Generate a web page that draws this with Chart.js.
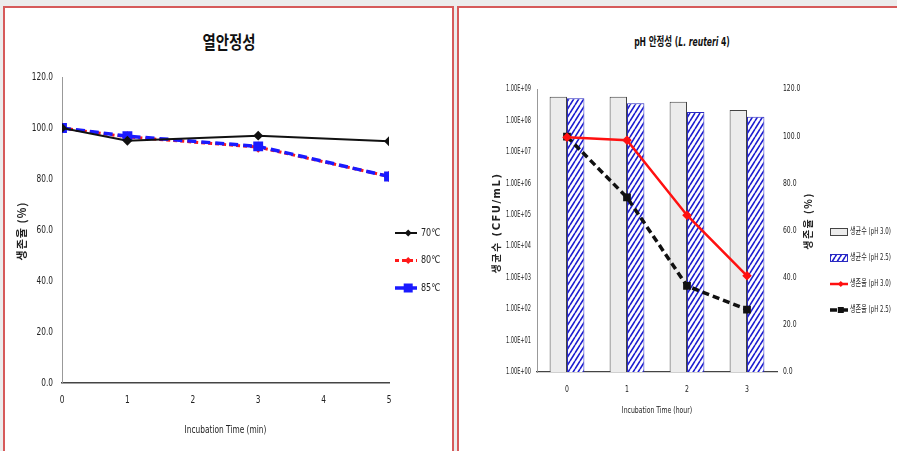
<!DOCTYPE html>
<html>
<head>
<meta charset="UTF-8">
<title>열안정성 / pH 안정성</title>
<script src="https://cdn.jsdelivr.net/npm/chart.js"></script>
<style>
  body { margin: 0; width: 897px; height: 451px; overflow: hidden; background: #ececec; position: relative; }
  .panel { position: absolute; top: 6px; height: 470px; box-sizing: border-box; border: 2px solid #d65a5a; background: #fff; }
  #p1 { left: 3px; width: 451px; }
  #p2 { left: 457px; width: 460px; }
  canvas { position: absolute; }
  #heat { left: 6px; top: 9px; }
  #ph { left: 460px; top: 9px; }
  .title { position: absolute; font-weight: bold; white-space: nowrap; color: #111;
           font-family: 'DejaVu Sans Condensed', 'Liberation Sans', 'Noto Sans CJK KR', sans-serif; }
  #t1 { left: 229px; top: 28px; font-size: 18px; transform: translateX(-50%) scaleX(0.8); }
  #t2 { left: 682px; top: 31px; font-size: 12.5px; transform: translateX(-50%) scaleX(0.68); }
</style>
</head>
<body>
<div class="panel" id="p1"></div>
<div class="panel" id="p2"></div>
<div class="title" id="t1">열안정성</div>
<div class="title" id="t2">pH 안정성 (<i>L. reuteri</i> 4)</div>
<canvas id="heat" width="446" height="442"></canvas>
<canvas id="ph" width="437" height="442"></canvas>

<script>
  // heat stability: survival (%) after incubation
  const timeMin = [0, 1, 3, 5];
  const surv70 = [100, 95.0, 97.0, 94.8];
  const surv80 = [100, 96.5, 92.5, 81.0];
  const surv85 = [100, 96.8, 92.8, 81.0];

  // pH stability of L. reuteri 4
  const hours = ['0', '1', '2', '3'];
  const cfuPh30 = [5.7e8, 5.7e8, 3.9e8, 2.15e8];
  const cfuPh25 = [5.1e8, 3.5e8, 1.86e8, 1.32e8];
  const survPh30 = [99.5, 98.3, 66.5, 40.8];
  const survPh25 = [99.8, 74.0, 36.5, 26.5];
  const cfuTicks = [1e0, 1e1, 1e2, 1e3, 1e4, 1e5, 1e6, 1e7, 1e8, 1e9];
  const cfuTickLabels = ['1.00E+00', '1.00E+01', '1.00E+02', '1.00E+03', '1.00E+04',
                         '1.00E+05', '1.00E+06', '1.00E+07', '1.00E+08', '1.00E+09'];

  const NARROW = "'DejaVu Sans Condensed', 'Liberation Sans', 'Noto Sans CJK KR', sans-serif";
  Chart.defaults.font.family = NARROW;
  Chart.defaults.color = '#222';
  Chart.defaults.animation = false;

  function hatch(color) {
    const w = 5, h = 8;
    const c = document.createElement('canvas');
    c.width = w; c.height = h;
    const g = c.getContext('2d');
    g.fillStyle = '#fff';
    g.fillRect(0, 0, w, h);
    g.strokeStyle = color;
    g.lineWidth = 1.6;
    g.beginPath();
    g.moveTo(0, h); g.lineTo(w, 0);
    g.moveTo(-w, h); g.lineTo(0, 0);
    g.moveTo(w, 2 * h); g.lineTo(2 * w, 0);
    g.moveTo(w, h); g.lineTo(2 * w, 0);
    g.moveTo(-w, 2 * h); g.lineTo(0, h);
    g.stroke();
    return g.createPattern(c, 'repeat');
  }

  function drawMarker(ctx, style, x, y, r, color) {
    ctx.save();
    ctx.fillStyle = color;
    ctx.setLineDash([]);
    ctx.beginPath();
    if (style === 'rect') {
      ctx.rect(x - r, y - r, 2 * r, 2 * r);
    } else {
      ctx.moveTo(x, y - r); ctx.lineTo(x + r, y); ctx.lineTo(x, y + r); ctx.lineTo(x - r, y);
      ctx.closePath();
    }
    ctx.fill();
    ctx.restore();
  }

  // text squeezed horizontally, like the narrow Excel export
  function narrowText(ctx, text, x, y, align, sx, font) {
    ctx.save();
    ctx.translate(x, y);
    ctx.scale(sx, 1);
    ctx.font = font;
    ctx.fillStyle = '#222';
    ctx.textAlign = align;
    ctx.textBaseline = 'middle';
    ctx.fillText(text, 0, 0);
    ctx.restore();
  }

  // tick labels, axis titles and legend drawn by hand
  const sidePanel = {
    id: 'sidePanel',
    afterDraw(chart, args, opts) {
      const ctx = chart.ctx;
      const area = chart.chartArea;

      Object.entries(opts.ticks || {}).forEach(([id, t]) => {
        const scale = chart.scales[id];
        const font = t.size + 'px ' + NARROW;
        scale.ticks.forEach((tick, i) => {
          const p = scale.getPixelForTick(i);
          if (scale.isHorizontal()) {
            narrowText(ctx, tick.label, p, scale.top + t.pad, 'center', t.sx, font);
          } else if (scale.position === 'left') {
            narrowText(ctx, tick.label, scale.right - t.pad, p, 'right', t.sx, font);
          } else {
            narrowText(ctx, tick.label, scale.left + t.pad, p, 'left', t.sx, font);
          }
        });
        if (t.title) {
          narrowText(ctx, t.title, (area.left + area.right) / 2, scale.top + t.titlePad, 'center', t.sx, font);
        }
      });

      (opts.titles || []).forEach(t => {
        ctx.save();
        ctx.translate(t.x, t.y);
        ctx.rotate(-Math.PI / 2);
        ctx.font = t.font;
        ctx.letterSpacing = t.spacing || '0px';
        ctx.fillStyle = '#222';
        ctx.textAlign = 'center';
        ctx.textBaseline = 'middle';
        ctx.fillText(t.text, 0, 0);
        ctx.restore();
      });

      const lg = opts.legend;
      chart.data.datasets.forEach((ds, i) => {
        const y = lg.y + i * lg.gap;
        const kind = ds.type || chart.config.type;
        ctx.save();
        if (kind === 'bar') {
          ctx.fillStyle = ds.backgroundColor;
          ctx.fillRect(lg.x, y - 4, lg.w, 8);
          ctx.strokeStyle = ds.borderColor;
          ctx.lineWidth = 1;
          ctx.strokeRect(lg.x + 0.5, y - 3.5, lg.w - 1, 7);
        } else {
          ctx.strokeStyle = ds.borderColor;
          ctx.lineWidth = ds.borderWidth;
          ctx.setLineDash(ds.borderDash || []);
          ctx.beginPath();
          ctx.moveTo(lg.x, y);
          ctx.lineTo(lg.x + lg.w, y);
          ctx.stroke();
          drawMarker(ctx, ds.pointStyle, lg.x + lg.w * 0.6, y, ds.pointRadius, ds.pointBackgroundColor);
        }
        ctx.restore();
        narrowText(ctx, ds.label, lg.x + lg.w + lg.textGap, y, 'left', lg.sx, lg.size + 'px ' + NARROW);
      });
    }
  };

  const pts = (xs, ys) => xs.map((x, i) => ({ x: x, y: ys[i] }));
  const noGrid = { display: false, drawTicks: false };

  new Chart(document.getElementById('heat'), {
    type: 'line',
    data: {
      datasets: [
        { label: '70℃', data: pts(timeMin, surv70), order: 0,
          borderColor: '#111', pointBackgroundColor: '#111', pointBorderColor: '#111',
          borderWidth: 2, pointStyle: 'rectRot', pointRadius: 3.5 },
        { label: '80℃', data: pts(timeMin, surv80), order: 2,
          borderColor: '#ff1a1a', pointBackgroundColor: '#ff1a1a', pointBorderColor: '#ff1a1a',
          borderWidth: 3, borderDash: [4, 3], pointStyle: 'rectRot', pointRadius: 3.5 },
        { label: '85℃', data: pts(timeMin, surv85), order: 1,
          borderColor: '#1a1aff', pointBackgroundColor: '#1a1aff', pointBorderColor: '#1a1aff',
          borderWidth: 3.5, borderDash: [9, 5], pointStyle: 'rect', pointRadius: 4.5 }
      ]
    },
    options: {
      responsive: false,
      tension: 0,
      layout: { padding: { top: 68, right: 63, left: 0, bottom: 0 } },
      plugins: {
        legend: { display: false },
        tooltip: { enabled: false },
        sidePanel: {
          ticks: {
            x: { size: 11, sx: 0.75, pad: 17, title: 'Incubation Time (min)', titlePad: 47 },
            y: { size: 11, sx: 0.75, pad: 9 }
          },
          titles: [{ text: '생존율 (%)', x: 16, y: 222, font: "bold 11px 'Noto Sans CJK KR', sans-serif", spacing: '1px' }],
          legend: { x: 389, w: 22, y: 224, gap: 27.5, textGap: 4, size: 10.5, sx: 0.85 }
        }
      },
      scales: {
        x: {
          type: 'linear', min: 0, max: 5,
          ticks: { stepSize: 1, display: false },
          grid: noGrid,
          border: { color: '#444', width: 1.5 },
          afterFit: s => { s.height = 68; }
        },
        y: {
          min: 0, max: 120,
          ticks: { stepSize: 20, display: false, callback: v => v.toFixed(1) },
          grid: noGrid,
          border: { color: '#999', width: 1 },
          afterFit: s => { s.width = 56; }
        }
      }
    },
    plugins: [sidePanel]
  });

  new Chart(document.getElementById('ph'), {
    type: 'bar',
    data: {
      labels: hours,
      datasets: [
        { label: '생균수 (pH 3.0)', data: cfuPh30, yAxisID: 'yL', order: 1,
          backgroundColor: '#ececec', borderColor: '#444', borderWidth: 1 },
        { label: '생균수 (pH 2.5)', data: cfuPh25, yAxisID: 'yL', order: 1,
          backgroundColor: hatch('#1c1cd0'), borderColor: '#2a2ac0', borderWidth: 1 },
        { type: 'line', label: '생존율 (pH 3.0)', data: survPh30, yAxisID: 'yR', order: 0,
          borderColor: '#ff1010', pointBackgroundColor: '#ff1010', pointBorderColor: '#ff1010',
          borderWidth: 2.5, pointStyle: 'rectRot', pointRadius: 3, tension: 0 },
        { type: 'line', label: '생존율 (pH 2.5)', data: survPh25, yAxisID: 'yR', order: 0,
          borderColor: '#111', pointBackgroundColor: '#111', pointBorderColor: '#111',
          borderWidth: 3.5, borderDash: [7, 4], pointStyle: 'rect', pointRadius: 3, tension: 0 }
      ]
    },
    options: {
      responsive: false,
      layout: { padding: { top: 80, right: 60, left: 0, bottom: 0 } },
      datasets: { bar: { categoryPercentage: 0.58, barPercentage: 1 } },
      plugins: {
        legend: { display: false },
        tooltip: { enabled: false },
        sidePanel: {
          ticks: {
            x: { size: 9.5, sx: 0.72, pad: 18, title: 'Incubation Time (hour)', titlePad: 39 },
            yL: { size: 8.5, sx: 0.66, pad: 6 },
            yR: { size: 9, sx: 0.75, pad: 6 }
          },
          titles: [
            { text: '생균수 (CFU/mL)', x: 37, y: 214, font: "bold 10px 'DejaVu Sans', 'Noto Sans CJK KR', sans-serif", spacing: '1.5px' },
            { text: '생존율 (%)', x: 348, y: 212, font: "bold 10px 'Noto Sans CJK KR', sans-serif", spacing: '1.5px' }
          ],
          legend: { x: 370, w: 18, y: 223, gap: 26, textGap: 2, size: 9.5, sx: 0.64 }
        }
      },
      scales: {
        x: {
          offset: true,
          ticks: { display: false },
          grid: noGrid,
          border: { color: '#444', width: 1.2 },
          afterFit: s => { s.height = 79; }
        },
        yL: {
          type: 'logarithmic', position: 'left', min: 1, max: 1e9,
          afterBuildTicks: s => { s.ticks = cfuTicks.map(v => ({ value: v })); },
          ticks: { display: false, autoSkip: false, callback: (v, i) => cfuTickLabels[i] },
          grid: noGrid,
          border: { color: '#999', width: 1 },
          afterFit: s => { s.width = 77; }
        },
        yR: {
          type: 'linear', position: 'right', min: 0, max: 120,
          ticks: { display: false, stepSize: 20, callback: v => v.toFixed(1) },
          grid: noGrid,
          border: { display: false },
          afterFit: s => { s.width = 60; }
        }
      }
    },
    plugins: [sidePanel]
  });
</script>
</body>
</html>
